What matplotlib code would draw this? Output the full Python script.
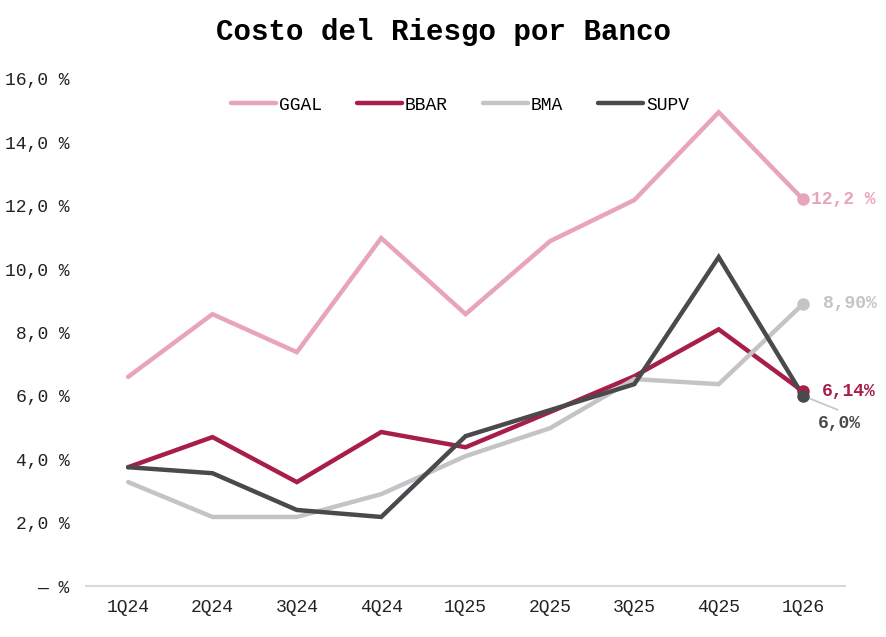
#!/usr/bin/env python
# Costo del Riesgo por Banco - line chart by quarter

import matplotlib
matplotlib.use('Agg')
import matplotlib.pyplot as plt
import numpy as np

# Data
quarters = ['1Q24', '2Q24', '3Q24', '4Q24', '1Q25', '2Q25', '3Q25', '4Q25', '1Q26']
ggal = [6.6, 8.58, 7.38, 10.98, 8.58, 10.88, 12.18, 14.95, 12.2]
bbar = [3.75, 4.7, 3.28, 4.86, 4.38, 5.49, 6.62, 8.1, 6.14]
bma = [3.28, 2.18, 2.18, 2.9, 4.1, 4.98, 6.53, 6.37, 8.9]
supv = [3.75, 3.56, 2.4, 2.18, 4.73, 5.55, 6.37, 10.38, 6.0]
end_labels = ['12,2 %', '6,14%', '8,90%', '6,0%']
y_ticks = [0, 2, 4, 6, 8, 10, 12, 14, 16]

plt.rcParams['font.family'] = ['Liberation Mono', 'DejaVu Sans Mono']

colors = {'GGAL': '#E8A4BC', 'BBAR': '#A71E47', 'BMA': '#C4C4C7', 'SUPV': '#4A4A4E'}
series = [('GGAL', ggal), ('BBAR', bbar), ('BMA', bma), ('SUPV', supv)]


def pct_fmt(v):
    if v == 0:
        return '\u2014 %'
    return '{:.1f} %'.format(v).replace('.', ',')


fig = plt.figure(figsize=(8.86, 6.37), dpi=100)
ax = fig.add_axes([0.097, 0.080, 0.857, 0.796])

x = np.arange(len(quarters))
for name, vals in series:
    ax.plot(x, vals, color=colors[name], lw=3.2, label=name,
            solid_capstyle='round', solid_joinstyle='miter', zorder=3)
    ax.plot(x[-1], vals[-1], 'o', color=colors[name], ms=8, zorder=4)

# end-point labels
ax.annotate(end_labels[0], (x[-1], ggal[-1]), xytext=(6, 0),
            textcoords='offset points', ha='left', va='center',
            fontsize=13, fontweight='bold', color=colors['GGAL'])
ax.annotate(end_labels[1], (x[-1], bbar[-1]), xytext=(13.5, 0),
            textcoords='offset points', ha='left', va='center',
            fontsize=13, fontweight='bold', color=colors['BBAR'])
ax.annotate(end_labels[2], (x[-1], bma[-1]), xytext=(14, 0),
            textcoords='offset points', ha='left', va='center',
            fontsize=13, fontweight='bold', color=colors['BMA'])
ax.annotate('', (x[-1], supv[-1]), xytext=(25, -10),
            textcoords='offset points',
            arrowprops=dict(arrowstyle='-', color='#C8C8C8', lw=1.3,
                            shrinkA=0, shrinkB=0))
ax.annotate(end_labels[3], (x[-1], supv[-1]), xytext=(11, -20),
            textcoords='offset points', ha='left', va='center',
            fontsize=13, fontweight='bold', color=colors['SUPV'])

ax.set_xlim(-0.5, 8.5)
ax.set_ylim(0, 16)
ax.set_xticks(x)
ax.set_xticklabels(quarters, fontsize=13)
ax.set_yticks(y_ticks)
ax.set_yticklabels([pct_fmt(v) for v in y_ticks], fontsize=13)
ax.tick_params(axis='both', length=0, colors='#222222')
ax.tick_params(axis='y', pad=12)
ax.tick_params(axis='x', pad=9)

for side in ['top', 'right', 'left']:
    ax.spines[side].set_visible(False)
ax.spines['bottom'].set_color('#D9D9D9')
ax.spines['bottom'].set_linewidth(1.5)

ax.legend(loc='center', bbox_to_anchor=(0.519, 0.835),
          bbox_transform=fig.transFigure, ncol=4, frameon=False,
          fontsize=13, handlelength=2.5, handletextpad=0.15,
          columnspacing=1.95)

fig.suptitle('Costo del Riesgo por Banco', y=0.95, va='center',
             fontsize=21, fontweight='bold')

fig.savefig('out.png', dpi=100)
